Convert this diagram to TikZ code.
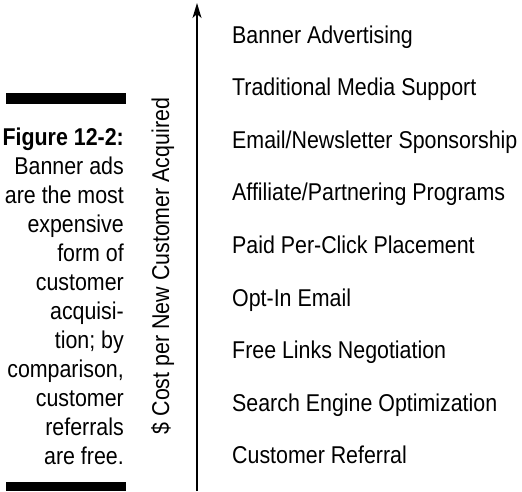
\documentclass[tikz,border=0pt]{standalone}
\usepackage{fontspec}
\setmainfont{Liberation Sans}[FakeStretch=0.88]
\usetikzlibrary{arrows.meta}
\begin{document}
\begin{tikzpicture}[x=1pt,y=-1pt,
  txt/.style={inner sep=0pt,font=\fontsize{24.3}{28}\selectfont},
  capline/.style={txt,anchor=base east},
  item/.style={txt,anchor=base west},
  bar/.style={fill=black,draw=none},
  axis/.style={line width=1.3pt,-{Stealth[length=15pt,width=9pt,inset=4pt]}}]
\useasboundingbox (0,0) rectangle (522,491);
\fill[bar] (6,93) rectangle (126,104);
\fill[bar] (6,482) rectangle (126,491);
\node[capline] (c0) at (124,145) {\bfseries Figure 12-2:};
\foreach \t [count=\i] in {Banner ads,are the most,expensive,form of,customer,acquisi-,{tion; by},{comparison,},customer,referrals,are free.}
  \node[capline] (c\i) at (124,145+29*\i) {\t};
\node[txt,rotate=90,anchor=base] (ylab) at (169,266) {\$ Cost per New Customer Acquired};
\coordinate (abot) at (197,491);
\coordinate (atop) at (197,3);
\draw[axis] (abot) -- (atop);
\foreach \t [count=\i from 0] in {Banner Advertising,Traditional Media Support,Email/Newsletter Sponsorship,Affiliate/Partnering Programs,Paid Per-Click Placement,Opt-In Email,Free Links Negotiation,Search Engine Optimization,Customer Referral}
  \node[item] (i\i) at (232,43+52.6*\i) {\t};
\end{tikzpicture}
\end{document}
